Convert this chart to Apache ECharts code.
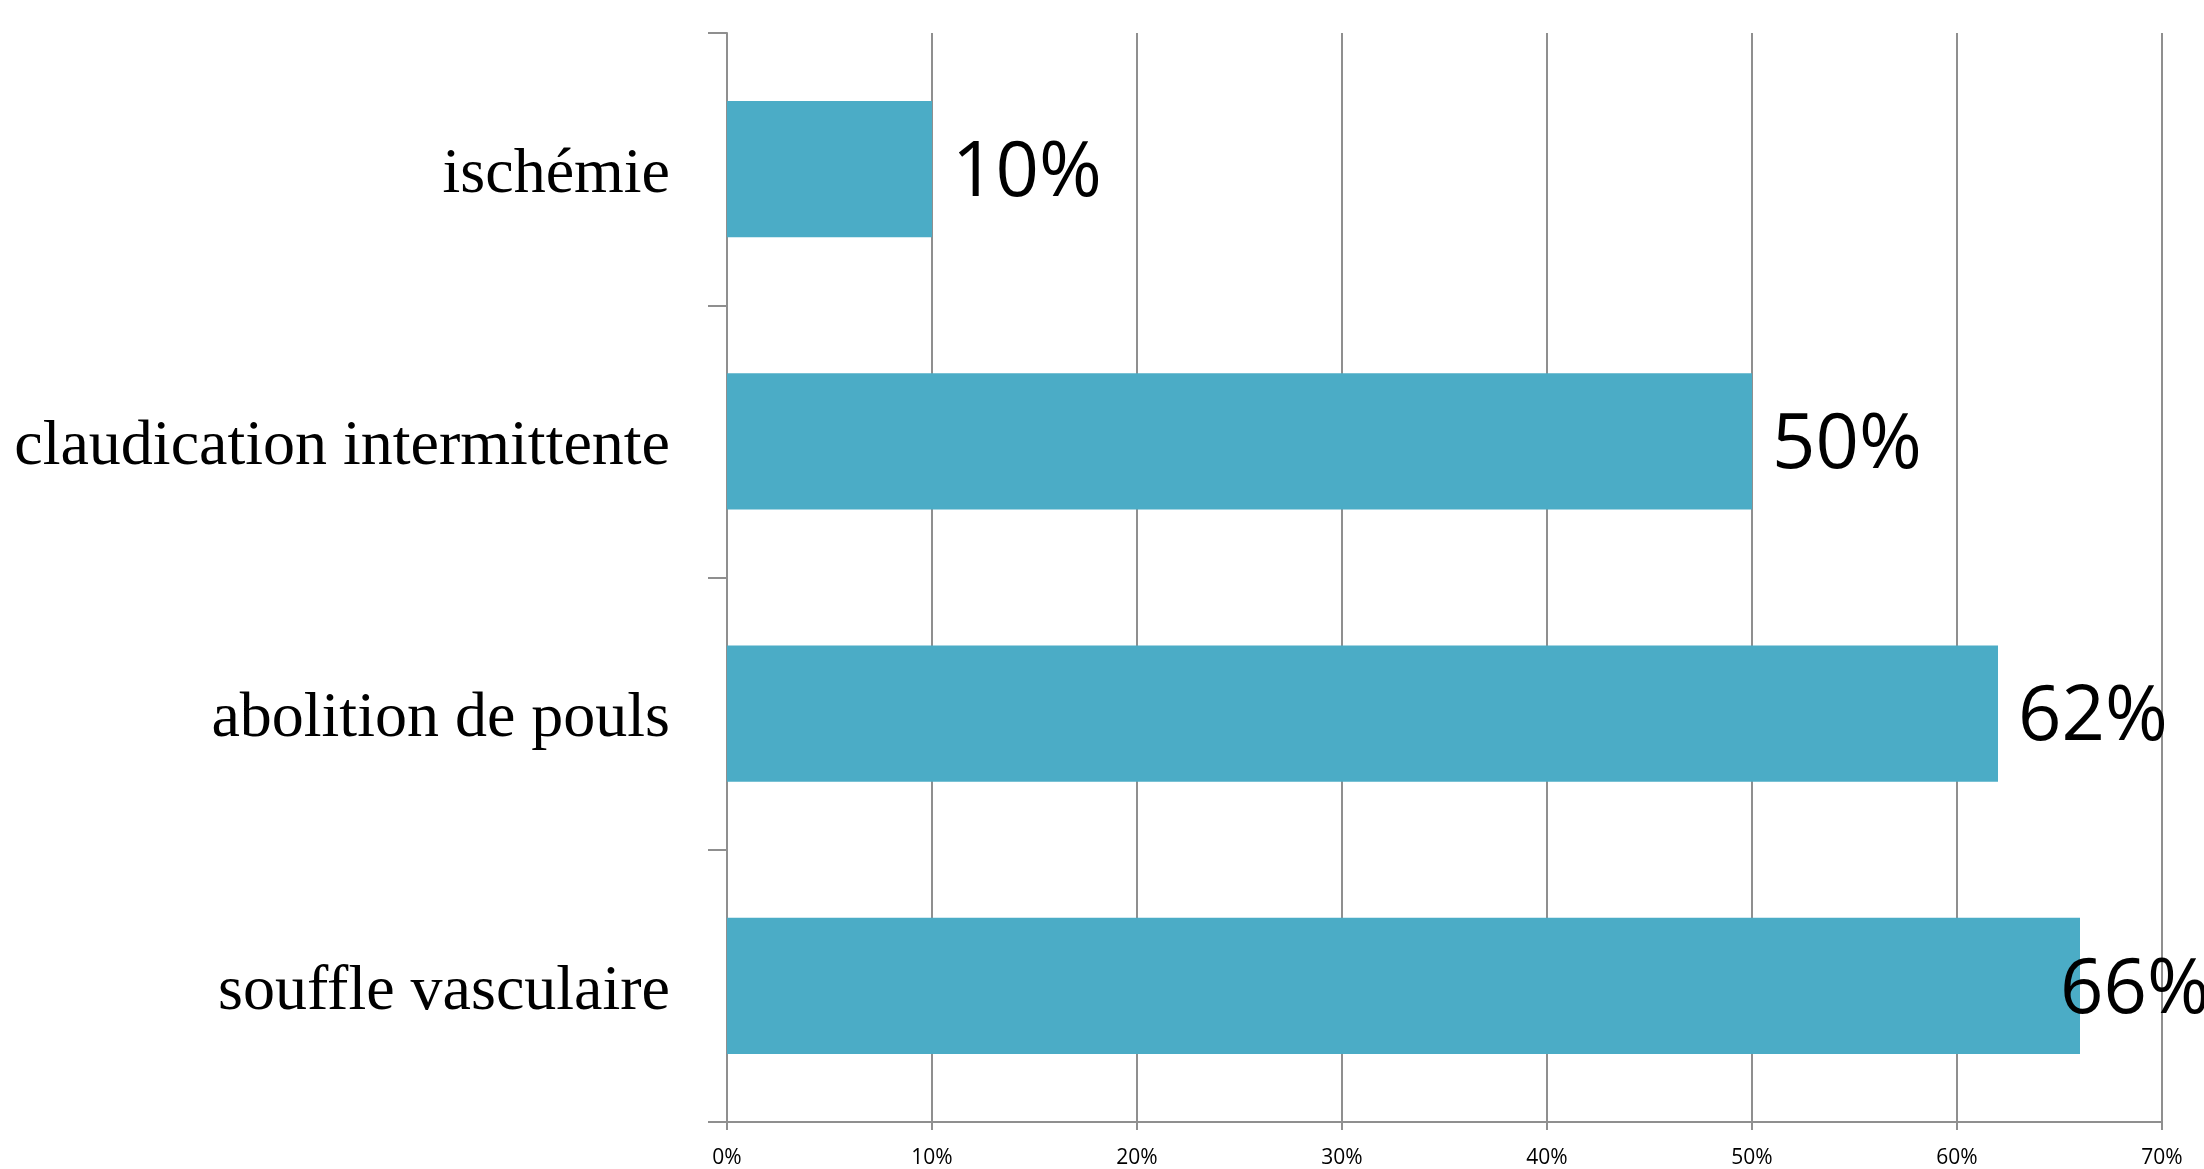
<!DOCTYPE html>
<html><head><meta charset="utf-8">
<script src="https://cdn.jsdelivr.net/npm/echarts@6/dist/echarts.min.js"></script>
<style>html,body{margin:0;padding:0;background:#fff}#c{width:2204px;height:1169px}</style>
</head><body><div id="c"></div>
<script>
const categories = ['ischémie', 'claudication intermittente', 'abolition de pouls', 'souffle vasculaire'];
const values = [10, 50, 62, 66];
const tickMin = 0, tickMax = 70, tickStep = 10;

const chart = echarts.init(document.getElementById('c'));
const data = values.map((v, i) => {
  const item = { value: v };
  if (i === values.length - 1) item.label = { distance: -20 };
  return item;
});
chart.setOption({
  animation: false,
  grid: { left: 727, right: 42, top: 33, bottom: 47, containLabel: false },
  xAxis: {
    type: 'value', min: tickMin, max: tickMax, interval: tickStep,
    axisLine: { show: true, lineStyle: { color: '#8f8f8f', width: 2 } },
    axisTick: { show: true, length: 8, lineStyle: { color: '#8f8f8f', width: 2 } },
    splitLine: { show: true, lineStyle: { color: '#8f8f8f', width: 2 } },
    axisLabel: { formatter: '{value}%', fontFamily: 'Open Sans', fontSize: 21, color: '#000', margin: 26 }
  },
  yAxis: {
    type: 'category', data: categories, inverse: true,
    axisLine: { show: true, lineStyle: { color: '#8f8f8f', width: 2 } },
    axisTick: { show: true, length: 19, alignWithLabel: false, lineStyle: { color: '#8f8f8f', width: 2 } },
    axisLabel: {
      formatter: '{a|{value}}', margin: 57,
      rich: { a: { fontFamily: 'Liberation Serif', fontSize: 64, color: '#000', padding: [12, 0, 0, 0] } }
    }
  },
  series: [{
    type: 'bar', data: data, barWidth: '50%',
    itemStyle: { color: '#4BACC6' },
    label: { show: true, position: 'right', distance: 20, offset: [0, 5], formatter: '{c}%', fontFamily: 'Open Sans', fontSize: 76, color: '#000' }
  }]
});
</script></body></html>
